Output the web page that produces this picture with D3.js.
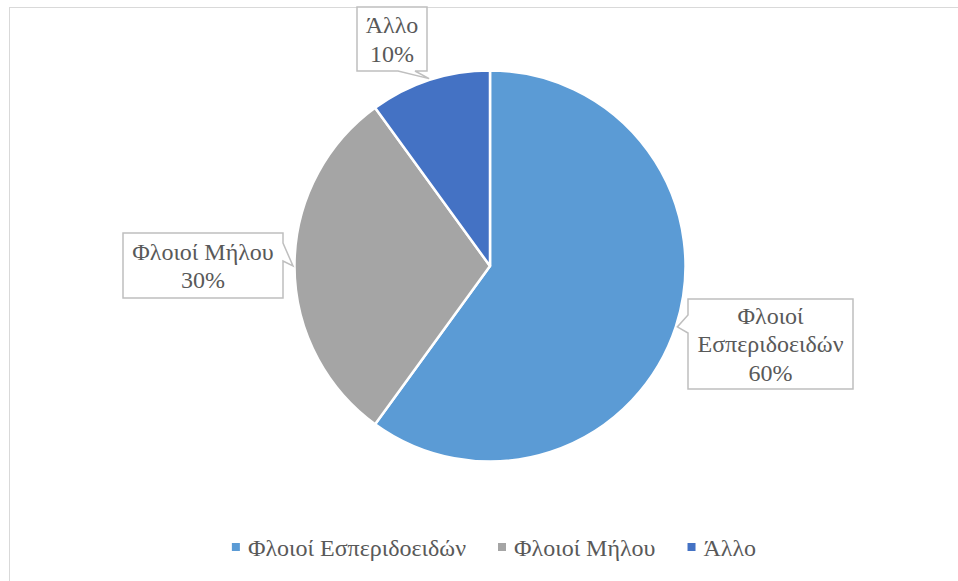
<!DOCTYPE html>
<html><head><meta charset="utf-8">
<script src="https://cdn.jsdelivr.net/npm/d3@7"></script>
<style>body{margin:0;background:#fff}svg{display:block}</style>
</head><body><svg id="c" width="958" height="581"></svg>
<script>
const categories = ["Φλοιοί Εσπεριδοειδών", "Φλοιοί Μήλου", "Άλλο"];
const values = [60, 30, 10];
const labelLines = [["Φλοιοί", "Εσπεριδοειδών", "60%"], ["Φλοιοί Μήλου", "30%"], ["Άλλο", "10%"]];
const colors = ["#5B9BD5", "#A5A5A5", "#4472C4"];

const W = 958, H = 581;
const svg = d3.select("#c");
const FONT = '"Liberation Serif", "Times New Roman", serif';
const FS = 24;
const textColor = "#595959";

svg.append("rect").attr("x", 9.5).attr("y", 7.5).attr("width", W).attr("height", H)
  .attr("fill", "#fff").attr("stroke", "#D9D9D9").attr("stroke-width", 1);

const cx = 490, cy = 266, r = 195.5;
const pie = d3.pie().sort(null).value(d => d)(values);
const arc = d3.arc().innerRadius(0).outerRadius(r);
const g = svg.append("g").attr("transform", `translate(${cx},${cy})`);
g.selectAll("path").data(pie).join("path")
  .attr("d", arc).attr("fill", (d, i) => colors[i])
  .attr("stroke", "#fff").attr("stroke-width", 2.5).attr("stroke-linejoin", "round");

const boxes = [
  {x: 688, y: 299, w: 165, h: 90, side: "left", n0: 16, n1: 34},
  {x: 123, y: 233, w: 160, h: 65, side: "right", n0: 10, n1: 28},
  {x: 357, y: 7, w: 70, h: 64, side: "bottom", n0: 41, n1: 58}
];
pie.forEach((d, i) => {
  const b = boxes[i];
  const mid = (d.startAngle + d.endAngle) / 2;
  const tx = cx + (r + 1.5) * Math.sin(mid), ty = cy - (r + 1.5) * Math.cos(mid);
  const x0 = b.x, y0 = b.y, x1 = b.x + b.w, y1 = b.y + b.h;
  let pts;
  if (b.side === "left") pts = [[x0, y0], [x1, y0], [x1, y1], [x0, y1], [x0, y0 + b.n1], [tx, ty], [x0, y0 + b.n0]];
  else if (b.side === "right") pts = [[x0, y0], [x1, y0], [x1, y0 + b.n0], [tx, ty], [x1, y0 + b.n1], [x1, y1], [x0, y1]];
  else pts = [[x0, y0], [x1, y0], [x1, y1], [x0 + b.n1, y1], [tx, ty], [x0 + b.n0, y1], [x0, y1]];
  svg.append("path").attr("d", d3.line()(pts) + "Z")
    .attr("fill", "#fff").attr("stroke", "#BFBFBF").attr("stroke-width", 1.5);
  const lines = labelLines[i];
  const lh = 28.5;
  const startY = (y0 + y1) / 2 - (lines.length - 1) * lh / 2;
  const t = svg.append("text").style("font-family", FONT).style("font-size", FS + "px")
    .attr("fill", textColor).attr("text-anchor", "middle");
  lines.forEach((ln, j) => {
    t.append("tspan").attr("x", (x0 + x1) / 2).attr("y", startY + j * lh)
      .attr("dy", "0.35em").text(ln);
  });
});

// legend, centred
const lg = svg.append("g");
const sq = 8, gap = 8, spacing = 32, legendY = 548;
const items = categories.map((c, i) => {
  const gi = lg.append("g");
  gi.append("rect").attr("x", 0).attr("y", legendY - sq / 2 - 1).attr("width", sq).attr("height", sq).attr("fill", colors[i]);
  const t = gi.append("text").attr("x", sq + gap).attr("y", legendY).attr("dy", "0.35em")
    .style("font-family", FONT).style("font-size", FS + "px").attr("fill", textColor).text(c);
  return {gi, w: sq + gap + t.node().getComputedTextLength()};
});
const total = d3.sum(items, d => d.w) + spacing * (items.length - 1);
let xPos = 494 - total / 2;
items.forEach(it => { it.gi.attr("transform", `translate(${xPos},0)`); xPos += it.w + spacing; });
</script></body></html>
